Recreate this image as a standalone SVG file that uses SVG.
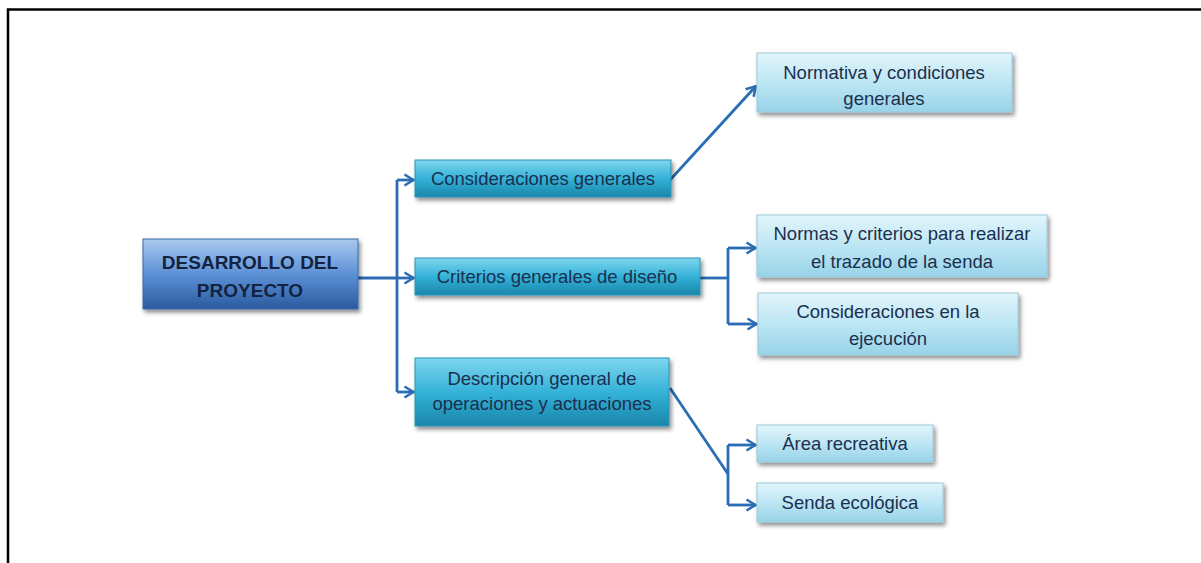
<svg xmlns="http://www.w3.org/2000/svg" width="1201" height="563" viewBox="0 0 1201 563">
<defs>
<linearGradient id="gMain" x1="0" y1="0" x2="0" y2="1">
<stop offset="0" stop-color="#a9c9ee"/><stop offset="0.5" stop-color="#5d91d6"/><stop offset="1" stop-color="#2a5a9e"/>
</linearGradient>
<linearGradient id="gMid" x1="0" y1="0" x2="0" y2="1">
<stop offset="0" stop-color="#7fd6ee"/><stop offset="0.5" stop-color="#34b2d8"/><stop offset="1" stop-color="#1a86aa"/>
</linearGradient>
<linearGradient id="gLeaf" x1="0" y1="0" x2="0" y2="1">
<stop offset="0" stop-color="#e2f5fb"/><stop offset="0.5" stop-color="#bde6f4"/><stop offset="1" stop-color="#97d3e8"/>
</linearGradient>
<filter id="sh" x="-10%" y="-20%" width="125%" height="160%">
<feDropShadow dx="2" dy="3" stdDeviation="2" flood-color="#000" flood-opacity="0.45"/>
</filter>
<marker id="arr" viewBox="0 0 12 14" refX="11" refY="7" markerWidth="12" markerHeight="14" markerUnits="userSpaceOnUse" orient="auto">
<path d="M1.5,1.5 L10.5,7 L1.5,12.5" fill="none" stroke="#2a6db5" stroke-width="2.6" stroke-linejoin="miter"/>
</marker>
</defs>
<style>
.main{fill:url(#gMain);stroke:#3a6aa8;stroke-width:1;filter:url(#sh)}
.mid{fill:url(#gMid);stroke:#2a93b8;stroke-width:1;filter:url(#sh)}
.leaf{fill:url(#gLeaf);stroke:#9cc9da;stroke-width:1;filter:url(#sh)}
text{font-family:"Liberation Sans",Arial,sans-serif;font-size:18.5px;fill:#1b2f4e;text-anchor:middle}
.b{font-weight:bold;font-size:19px;fill:#13233f}
.c{fill:none;stroke:#2a6db5;stroke-width:2.8}
</style>
<rect width="1201" height="563" fill="#fff"/>
<path d="M8,563 V9.5 H1201" fill="none" stroke="#000" stroke-width="2.5"/>

<g id="connectors">
<path class="c" d="M358,278 H397"/>
<path class="c" d="M397,180 V392"/>
<path class="c" d="M397,180 H414" marker-end="url(#arr)"/>
<path class="c" d="M397,278 H414" marker-end="url(#arr)"/>
<path class="c" d="M397,392 H414" marker-end="url(#arr)"/>
<path class="c" d="M670,180 L756,86" marker-end="url(#arr)"/>
<path class="c" d="M700,278 H728"/>
<path class="c" d="M728,248 V324"/>
<path class="c" d="M728,248 H756" marker-end="url(#arr)"/>
<path class="c" d="M728,324 H757" marker-end="url(#arr)"/>
<path class="c" d="M670,388 L728,474"/>
<path class="c" d="M728,445 V505"/>
<path class="c" d="M728,445 H756" marker-end="url(#arr)"/>
<path class="c" d="M728,505 H756" marker-end="url(#arr)"/>
</g>

<g id="n-main">
<rect class="main" x="143" y="239" width="215" height="70"/>
<text class="b" x="250" y="269">DESARROLLO DEL</text>
<text class="b" x="250" y="297">PROYECTO</text>
</g>
<g id="n-consideraciones">
<rect class="mid" x="415" y="160" width="256" height="37"/>
<text x="543" y="185">Consideraciones generales</text>
</g>
<g id="n-criterios">
<rect class="mid" x="415" y="258" width="285" height="37"/>
<text x="557" y="283">Criterios generales de diseño</text>
</g>
<g id="n-descripcion">
<rect class="mid" x="415" y="358" width="254" height="68"/>
<text x="542" y="385">Descripción general de</text>
<text x="542" y="410">operaciones y actuaciones</text>
</g>
<g id="n-normativa">
<rect class="leaf" x="757" y="53" width="255" height="59"/>
<text x="884" y="79">Normativa y condiciones</text>
<text x="884" y="105">generales</text>
</g>
<g id="n-normas">
<rect class="leaf" x="757" y="215" width="290" height="62"/>
<text x="902" y="240">Normas y criterios para realizar</text>
<text x="902" y="268">el trazado de la senda</text>
</g>
<g id="n-ejecucion">
<rect class="leaf" x="758" y="293" width="260" height="62"/>
<text x="888" y="318">Consideraciones en la</text>
<text x="888" y="345">ejecución</text>
</g>
<g id="n-area">
<rect class="leaf" x="757" y="425" width="176" height="37"/>
<text x="845" y="450">Área recreativa</text>
</g>
<g id="n-senda">
<rect class="leaf" x="757" y="483" width="186" height="39"/>
<text x="850" y="509">Senda ecológica</text>
</g>
</svg>
